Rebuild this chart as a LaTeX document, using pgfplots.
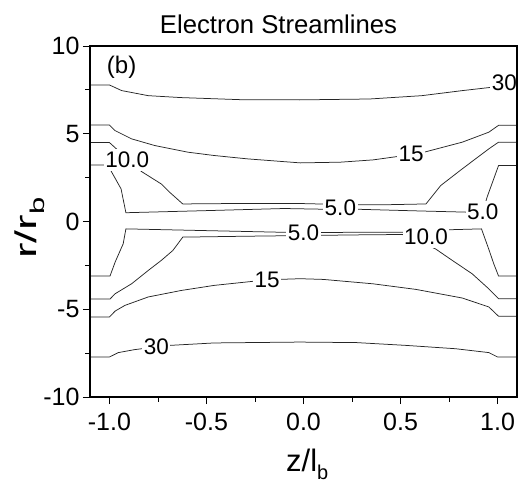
\documentclass[border=0pt]{standalone}
\usepackage{fontspec}
\setmainfont{Liberation Sans}
\usepackage{pgfplots}
\pgfplotsset{compat=1.18}

\newcommand{\fs}[1]{\fontsize{#1}{#1}\selectfont}

\begin{document}
\begin{tikzpicture}
% fixed page frame around the axis box (axis box lower left corner at origin)
\path[use as bounding box] (-90bp,-89bp) rectangle (434bp,397bp);
\begin{axis}[
  at={(0,0)}, anchor=south west,
  scale only axis, width=427bp, height=351bp,
  xmin=-1.1, xmax=1.1, ymin=-10, ymax=10,
  xtick={-1,-0.5,0,0.5,1},
  xticklabels={-1.0,-0.5,0.0,0.5,1.0},
  minor xtick={-0.75,-0.25,0.25,0.75},
  ytick={-10,-5,0,5,10},
  yticklabels={-10,-5,0,5,10},
  minor ytick={-7.5,-2.5,2.5,7.5},
  tick align=outside, tick pos=left,
  major tick length=7bp, minor tick length=4.5bp,
  tick style={line width=0.8bp, black},
  axis line style={line width=1.8bp},
  axis on top,
  /pgf/number format/assume math mode=true,
  ticklabel style={font=\fs{25bp}},
  xticklabel style={yshift=-6bp},
  ylabel={\scalebox{1.55}[1]{r/r\raisebox{-8bp}{\fs{20bp}b}}},
  every axis y label/.style={at={(rel axis cs:0,0.4815)}, xshift=-53bp, rotate=90,
    anchor=base, inner sep=0pt, font=\fs{30bp}},
  ylabel shift=0pt,
  clip=false,
  stream/.style={black!85, line width=0.75bp, mark=none},
]
% streamline contours
% psi = 30, upper
\addplot[stream] coordinates {(-1.1,7.78) (-1.0,7.78) (-0.937,7.46) (-0.80,7.17) (-0.63,7.06)
  (-0.32,6.94) (-0.02,6.93) (0.34,6.98) (0.61,7.17) (0.82,7.46) (0.971,7.65) (1.03,7.8)};
% psi = 30, lower
\addplot[stream] coordinates {(-1.1,-7.72) (-1.0,-7.72) (-0.954,-7.47) (-0.87,-7.3) (-0.76,-7.15)
  (-0.69,-7.06) (-0.46,-6.92) (-0.02,-6.87) (0.273,-6.9) (0.529,-7.06) (0.784,-7.25)
  (0.955,-7.47) (1.0,-7.72) (1.1,-7.72)};
% psi = 15, upper
\addplot[stream] coordinates {(-1.1,5.5) (-1.0,5.5) (-0.971,5.18) (-0.886,4.71) (-0.767,4.33)
  (-0.596,3.95) (-0.46,3.76) (-0.29,3.57) (-0.017,3.34) (0.19,3.38) (0.358,3.51)
  (0.554,3.81) (0.622,3.95) (0.818,4.52) (0.955,5.09) (1.005,5.48) (1.1,5.48)};
% psi = 15, lower
\addplot[stream] coordinates {(-1.1,-5.44) (-1.0,-5.44) (-0.97,-5.1) (-0.92,-4.78) (-0.80,-4.30)
  (-0.63,-3.93) (-0.46,-3.64) (-0.184,-3.32) (-0.017,-3.26) (0.102,-3.3) (0.358,-3.55)
  (0.58,-3.87) (0.818,-4.36) (0.955,-4.87) (1.005,-5.4) (1.1,-5.4)};
% psi = 10 / 5, upper outer branch
\addplot[stream] coordinates {(-1.1,4.5) (-1.0,4.5) (-0.835,2.85) (-0.733,2.14) (-0.69,1.67)
  (-0.622,1.0) (-0.3,1.03) (0.0,1.02) (0.19,0.97) (0.4,0.95) (0.631,1.0) (0.707,2.05)
  (0.818,3.0) (0.955,4.14) (1.005,4.52) (1.1,4.52)};
% psi = 10 / 5, upper inner branch
\addplot[stream] coordinates {(-1.1,3.22) (-1.01,3.22) (-0.99,2.85) (-0.94,1.86) (-0.915,0.5)
  (-0.5,0.62) (-0.1,0.74) (0.1,0.7) (0.27,0.7) (0.6,0.6) (0.85,0.53) (0.924,0.55)
  (0.946,1.39) (1.005,3.19) (1.1,3.19)};
% psi = 5 / 10, lower inner branch
\addplot[stream] coordinates {(-1.1,-3.11) (-0.997,-3.11) (-0.97,-2.3) (-0.929,-1.27) (-0.915,-0.42)
  (-0.5,-0.52) (0.0,-0.64) (0.3,-0.61) (0.51,-0.61) (0.75,-0.47) (0.917,-0.42)
  (0.954,-1.56) (0.98,-2.4) (1.005,-3.11) (1.1,-3.11)};
% psi = 5 / 10, lower outer branch
\addplot[stream] coordinates {(-1.1,-4.42) (-0.997,-4.42) (-0.971,-4.12) (-0.886,-3.55) (-0.80,-2.79)
  (-0.733,-2.22) (-0.673,-1.65) (-0.622,-0.89) (-0.3,-0.84) (0.0,-0.8) (0.3,-0.76)
  (0.51,-0.74) (0.68,-1.56) (0.767,-2.22) (0.869,-2.98) (0.954,-3.83) (1.005,-4.40)
  (1.1,-4.40)};

% contour labels
\begin{scope}[every node/.style={fill=white, inner xsep=1.5bp, inner ysep=3bp, font=\fs{22.5bp}}]
\node at (axis cs:1.035,7.9) {30};
\node at (axis cs:-0.758,-7.15) {30};
\node at (axis cs:0.554,3.85) {15};
\node at (axis cs:-0.187,-3.34) {15};
\node at (axis cs:-0.908,3.52) {10.0};
\node at (axis cs:0.631,-0.89) {10.0};
\node at (axis cs:0.19,0.8) {5.0};
\node at (axis cs:0.924,0.53) {5.0};
\node at (axis cs:0.0,-0.66) {5.0};
\end{scope}
\node[font=\fs{24bp}] at (axis cs:-0.937,8.79) {(b)};
\end{axis}

% title and axis labels
\node[anchor=base, font=\fs{25.7bp}] at (188.5bp,363.7bp) {Electron Streamlines};
\node[anchor=base west, inner sep=0pt, font=\fs{31bp}] at (196bp,-74bp)
  {z/l\raisebox{-8bp}{\fs{20bp}b}};
\end{tikzpicture}
\end{document}
